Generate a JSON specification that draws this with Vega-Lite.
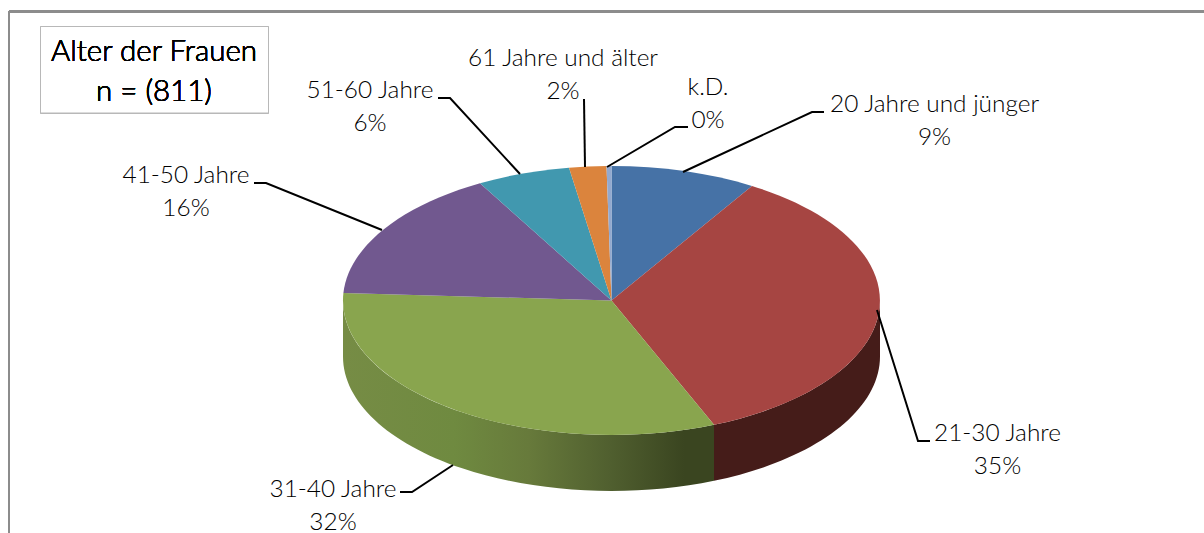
{
"$schema":"https://vega.github.io/schema/vega-lite/v6.json",
"width":1204,"height":533,"padding":0,"autosize":{"type":"none"},"background":"white",
"config":{"view":{"stroke":null},"text":{"font":"Lato","fontSize":24.4,"fontWeight":300,"color":"#000000","align":"center","baseline":"alphabetic","lineHeight":32.5}},
"data":{"values":[
{"Alter":"20 Jahre und jünger","Anteil":9},
{"Alter":"21-30 Jahre","Anteil":35},
{"Alter":"31-40 Jahre","Anteil":32},
{"Alter":"41-50 Jahre","Anteil":16},
{"Alter":"51-60 Jahre","Anteil":6},
{"Alter":"61 Jahre und älter","Anteil":2},
{"Alter":"k.D.","Anteil":0}
]},
"transform":[{"calculate":"datum.Alter + '\\n' + datum.Anteil + '%'","as":"Beschriftung"}],
"resolve":{"scale":{"shape":"independent"}},
"layer":[
{"mark":{"type":"rule","color":"#8c8c8c","strokeWidth":2},"encoding":{"x":{"datum":-602.5,"type":"quantitative","scale":{"domain":[-611.5,592.5]},"axis":null},"y":{"datum":289,"type":"quantitative","scale":{"domain":[-232.5,300.5]},"axis":null},"y2":{"datum":-232.5}}},
{"mark":{"type":"rule","color":"#8c8c8c","strokeWidth":2},"encoding":{"x":{"datum":-602.5,"type":"quantitative","scale":{"domain":[-611.5,592.5]},"axis":null},"x2":{"datum":592.5},"y":{"datum":289,"type":"quantitative","scale":{"domain":[-232.5,300.5]},"axis":null}}},
{"mark":{"type":"rect","fill":"white","stroke":"#b8b8b8","strokeWidth":1},"encoding":{"x":{"datum":-571,"type":"quantitative","scale":{"domain":[-611.5,592.5]},"axis":null},"x2":{"datum":-343},"y":{"datum":274,"type":"quantitative","scale":{"domain":[-232.5,300.5]},"axis":null},"y2":{"datum":187.5}}},
{"mark":{"type":"text","fontSize":29.5,"lineHeight":40,"lineBreak":"\n"},"encoding":{"x":{"datum":-457.5,"type":"quantitative","scale":{"domain":[-611.5,592.5]},"axis":null},"y":{"datum":239.5,"type":"quantitative","scale":{"domain":[-232.5,300.5]},"axis":null},"text":{"value":"Alter der Frauen\nn = (811)"}}},
{"transform":[{"filter":"datum.Alter == '21-30 Jahre'"}],"mark":{"type":"point","filled":true,"opacity":1,"size":4,"fill":"#451c19"},"encoding":{"x":{"datum":0,"type":"quantitative","scale":{"domain":[-611.5,592.5]},"axis":null},"y":{"datum":0,"type":"quantitative","scale":{"domain":[-232.5,300.5]},"axis":null},"shape":{"value":"M268.5,0 A268.5,134.5 0 0 1 102.5,124.3 L102.5,180.3 A268.5,134.5 0 0 0 268.5,56 Z"}}},
{"transform":[{"filter":"datum.Alter == '31-40 Jahre'"}],"mark":{"type":"point","filled":true,"opacity":1,"size":4,"fill":{"gradient":"linear","x1":0,"y1":0,"x2":1,"y2":0,"stops":[{"offset":0,"color":"#768c45"},{"offset":0.3,"color":"#6f8a40"},{"offset":0.5,"color":"#677a3b"},{"offset":0.72,"color":"#505f2f"},{"offset":0.92,"color":"#3a4520"},{"offset":1,"color":"#3a4520"}]}},"encoding":{"x":{"datum":0,"type":"quantitative","scale":{"domain":[-611.5,592.5]},"axis":null},"y":{"datum":0,"type":"quantitative","scale":{"domain":[-232.5,300.5]},"axis":null},"shape":{"value":"M102.5,124.3 A268.5,134.5 0 0 1 -268.5,0 L-268.5,56 A268.5,134.5 0 0 0 102.5,180.3 Z"}}},
{"mark":{"type":"point","filled":true,"opacity":1,"size":4},"encoding":{"x":{"datum":0,"type":"quantitative","scale":{"domain":[-611.5,592.5]},"axis":null},"y":{"datum":0,"type":"quantitative","scale":{"domain":[-232.5,300.5]},"axis":null},
"color":{"field":"Alter","type":"nominal","legend":null,"scale":{"domain":["20 Jahre und jünger","21-30 Jahre","31-40 Jahre","41-50 Jahre","51-60 Jahre","61 Jahre und älter","k.D."],"range":["#4672a6","#a64542","#89a54e","#71588f","#4198af","#db843d","#93a9cf"]}},
"shape":{"field":"Alter","type":"nominal","legend":null,"scale":{"domain":["20 Jahre und jünger","21-30 Jahre","31-40 Jahre","41-50 Jahre","51-60 Jahre","61 Jahre und älter","k.D."],"range":[
"M0,0 L0,-134.5 A268.5,134.5 0 0 1 140.5,-114.6 Z",
"M0,0 L140.5,-114.6 A268.5,134.5 0 0 1 102.5,124.3 Z",
"M0,0 L102.5,124.3 A268.5,134.5 0 0 1 -268.1,-7.5 Z",
"M0,0 L-268.1,-7.5 A268.5,134.5 0 0 1 -131.5,-117.3 Z",
"M0,0 L-131.5,-117.3 A268.5,134.5 0 0 1 -42.5,-132.8 Z",
"M0,0 L-42.5,-132.8 A268.5,134.5 0 0 1 -5,-134.4 Z",
"M0,0 L-5,-134.4 A268.5,134.5 0 0 1 0,-134.5 Z"]}}}},
{"mark":{"type":"point","filled":false,"opacity":1,"size":4,"color":"#000000","strokeWidth":2},"encoding":{"x":{"datum":0,"type":"quantitative","scale":{"domain":[-611.5,592.5]},"axis":null},"y":{"datum":0,"type":"quantitative","scale":{"domain":[-232.5,300.5]},"axis":null},
"shape":{"field":"Alter","type":"nominal","legend":null,"scale":{"domain":["20 Jahre und jünger","21-30 Jahre","31-40 Jahre","41-50 Jahre","51-60 Jahre","61 Jahre und älter","k.D."],"range":[
"M71.5,-128.5 L200.5,-188.5 L212.5,-188.5",
"M265.5,9.5 L306.5,140.5 L318.5,140.5",
"M-158.5,164.5 L-199.5,191.5 L-211.5,191.5",
"M-229.5,-70.5 L-345.5,-117.5 L-357.5,-117.5",
"M-91.5,-126.5 L-161.5,-202.5 L-173.5,-202.5",
"M-26.5,-133.5 L-27.5,-201.5",
"M-4.5,-133.5 L63.5,-173.5 L76.5,-173.5"]}}}},
{"transform":[{"filter":"datum.Alter == '20 Jahre und jünger'"}],"mark":{"type":"text","lineBreak":"\n"},"encoding":{"x":{"datum":323,"type":"quantitative","scale":{"domain":[-611.5,592.5]},"axis":null},"y":{"datum":188.5,"type":"quantitative","scale":{"domain":[-232.5,300.5]},"axis":null},"text":{"field":"Beschriftung"}}},
{"transform":[{"filter":"datum.Alter == '21-30 Jahre'"}],"mark":{"type":"text","lineBreak":"\n"},"encoding":{"x":{"datum":386,"type":"quantitative","scale":{"domain":[-611.5,592.5]},"axis":null},"y":{"datum":-140.5,"type":"quantitative","scale":{"domain":[-232.5,300.5]},"axis":null},"text":{"field":"Beschriftung"}}},
{"transform":[{"filter":"datum.Alter == '31-40 Jahre'"}],"mark":{"type":"text","lineBreak":"\n"},"encoding":{"x":{"datum":-278.5,"type":"quantitative","scale":{"domain":[-611.5,592.5]},"axis":null},"y":{"datum":-196.5,"type":"quantitative","scale":{"domain":[-232.5,300.5]},"axis":null},"text":{"field":"Beschriftung"}}},
{"transform":[{"filter":"datum.Alter == '41-50 Jahre'"}],"mark":{"type":"text","lineBreak":"\n"},"encoding":{"x":{"datum":-425.5,"type":"quantitative","scale":{"domain":[-611.5,592.5]},"axis":null},"y":{"datum":117.5,"type":"quantitative","scale":{"domain":[-232.5,300.5]},"axis":null},"text":{"field":"Beschriftung"}}},
{"transform":[{"filter":"datum.Alter == '51-60 Jahre'"}],"mark":{"type":"text","lineBreak":"\n"},"encoding":{"x":{"datum":-241.5,"type":"quantitative","scale":{"domain":[-611.5,592.5]},"axis":null},"y":{"datum":202.5,"type":"quantitative","scale":{"domain":[-232.5,300.5]},"axis":null},"text":{"field":"Beschriftung"}}},
{"transform":[{"filter":"datum.Alter == '61 Jahre und älter'"}],"mark":{"type":"text","lineBreak":"\n"},"encoding":{"x":{"datum":-48.5,"type":"quantitative","scale":{"domain":[-611.5,592.5]},"axis":null},"y":{"datum":234.5,"type":"quantitative","scale":{"domain":[-232.5,300.5]},"axis":null},"text":{"field":"Beschriftung"}}},
{"transform":[{"filter":"datum.Alter == 'k.D.'"}],"mark":{"type":"text","lineBreak":"\n"},"encoding":{"x":{"datum":96.5,"type":"quantitative","scale":{"domain":[-611.5,592.5]},"axis":null},"y":{"datum":205.5,"type":"quantitative","scale":{"domain":[-232.5,300.5]},"axis":null},"text":{"field":"Beschriftung"}}}
]
}
